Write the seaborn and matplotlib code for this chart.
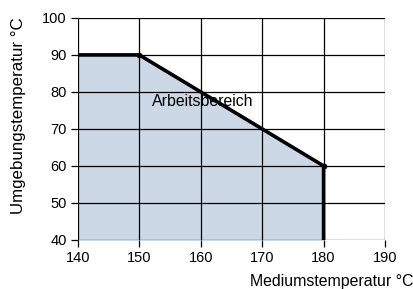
import matplotlib
matplotlib.use("Agg")
import matplotlib.pyplot as plt
import seaborn as sns
import pandas as pd

# boundary of the working range
medium_temp = [140, 150, 180, 180]
ambient_temp = [90, 90, 60, 40]
corner_x = [150, 180]
corner_y = [90, 60]

x_ticks = [140, 150, 160, 170, 180, 190]
y_ticks = [40, 50, 60, 70, 80, 90, 100]

sns.set_style("white")
plt.rcParams['font.family'] = ['Liberation Sans', 'DejaVu Sans']
plt.rcParams['text.color'] = 'black'
plt.rcParams['xtick.color'] = 'black'
plt.rcParams['ytick.color'] = 'black'

fig = plt.figure(figsize=(4.14, 2.89), dpi=100)
ax = fig.add_axes([0.188, 0.170, 0.742, 0.768])

df = pd.DataFrame({'x': medium_temp, 'y': ambient_temp})
ax.fill_between(df['x'], df['y'], 40, color='#cdd8e6', zorder=1)
sns.lineplot(data=df, x='x', y='y', color='black', linewidth=2.6, sort=False,
             estimator=None, ax=ax, zorder=4)
sns.scatterplot(x=corner_x, y=corner_y, color='black', s=14, ax=ax, zorder=5,
                edgecolor='black')

ax.set_xlim(140, 190)
ax.set_ylim(40, 100)
ax.set_xticks(x_ticks)
ax.set_yticks(y_ticks)
ax.grid(True, color='black', linewidth=0.9, zorder=2)
ax.set_axisbelow(False)
for s in ax.spines.values():
    s.set_visible(False)
ax.tick_params(axis='both', length=5, width=0.9, color='black', labelsize=10.5,
               pad=3, direction='out', bottom=True, left=True)
ax.set_xlabel('')
ax.set_ylabel('')

ax.text(152, 77.3, 'Arbeitsbereich', fontsize=11.4, ha='left', va='center', zorder=6)

fig.text(0.998, 0.025, 'Mediumstemperatur °C', fontsize=11.4, ha='right', va='center')
fig.text(0.045, 0.94, 'Umgebungstemperatur °C', fontsize=12.2, rotation=90,
         ha='center', va='top')

fig.savefig('out.png', dpi=100)
